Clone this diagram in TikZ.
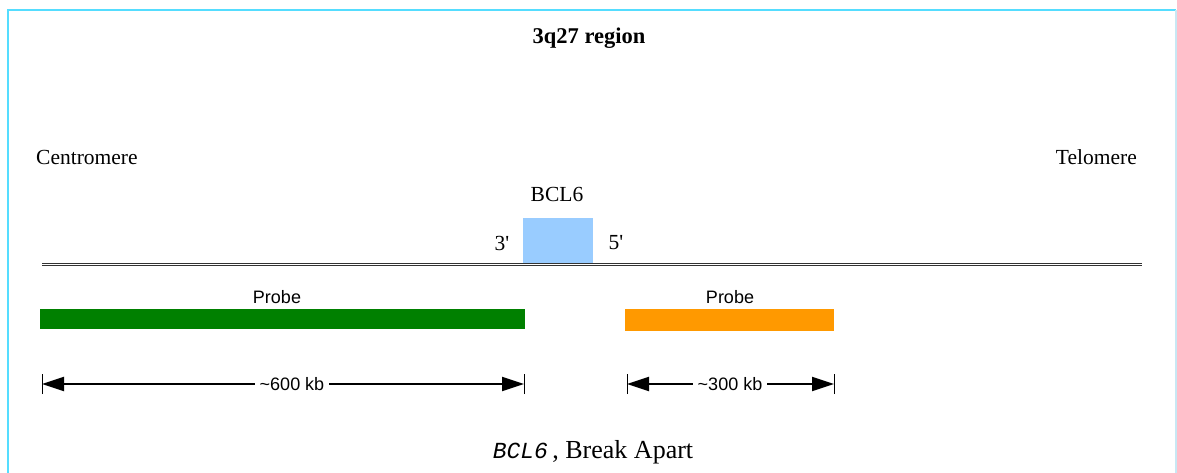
\documentclass[tikz,border=0pt]{standalone}
\usepackage{fontspec}
\setmainfont{Liberation Serif}
\setsansfont{Liberation Sans}
\newfontfamily\rawserif[Ligatures=TeXOff]{Liberation Serif}
\usetikzlibrary{arrows.meta}
\definecolor{framec}{HTML}{55DDFF}
\definecolor{framer}{HTML}{C8E8F4}
\definecolor{genec}{HTML}{99CCFF}
\definecolor{greenp}{HTML}{008000}
\definecolor{orangep}{HTML}{FF9900}
\definecolor{chrom}{HTML}{333333}
\tikzset{
  serif/.style={font=\fontsize{21.5}{23}\selectfont, inner sep=0pt},
  sans/.style={font=\sffamily\fontsize{18}{20}\selectfont, inner sep=0pt},
  probebar/.style={inner sep=0pt, minimum height=20pt, anchor=north west},
  tick/.style={line width=1pt},
  dim/.style={line width=2pt, -{Triangle[length=22pt,width=14pt]}},
}
\begin{document}
\begin{tikzpicture}[x=1pt,y=-1pt]
\useasboundingbox (0,0) rectangle (1177,472);
\draw[framec, line width=2pt] (8,480) -- (8,10) -- (1176,10);
\draw[framer, line width=1.5pt] (1176,10) -- (1176,480);
% title
\node[serif, font=\bfseries\fontsize{22.5}{24}\selectfont] (title) at (589,38) {3q27 region};
\node[serif, anchor=west] (cen) at (36,157) {Centromere};
\node[serif, anchor=east] (tel) at (1137,157) {Telomere};
% chromosome
\coordinate (chl) at (42,264.5);
\coordinate (chr) at (1142,264.5);
\draw[chrom, double=white, double distance=1.6pt, line width=1.1pt] (chl) -- (chr);
% gene
\node[fill=genec, inner sep=0pt, minimum width=70pt, minimum height=45pt, anchor=north west] (gene) at (523,218) {};
\node[serif] (genelbl) at (557,194) {BCL6};
\node[serif, font=\rawserif\fontsize{21.5}{23}\selectfont] (three) at (502,243) {3'};
\node[serif, font=\rawserif\fontsize{21.5}{23}\selectfont] (five) at (616,243) {5'};
% probes
\node[probebar, fill=greenp, minimum width=485pt] (gp) at (40,309) {};
\node[probebar, fill=orangep, minimum width=209pt, minimum height=22pt] (op) at (625,309) {};
\node[sans] (gpl) at (277,297) {Probe};
\node[sans] (opl) at (730,297) {Probe};
% dimensions
\coordinate (g1) at (42,384);
\coordinate (g2) at (524,384);
\coordinate (o1) at (627,384);
\coordinate (o2) at (834,384);
\foreach \c in {g1,g2,o1,o2} \draw[tick] ([yshift=-10pt]\c) -- ([yshift=10pt]\c);
\node[sans, fill=white, inner xsep=5pt] (g6) at (292,384) {{\char"7E}600 kb};
\node[sans, fill=white, inner xsep=5pt] (o3) at (730,384) {{\char"7E}300 kb};
\draw[dim] (g6.west) -- (g1);
\draw[dim] (g6.east) -- (g2);
\draw[dim] (o3.west) -- (o1);
\draw[dim] (o3.east) -- (o2);
% caption
\node[font=\fontsize{26}{28}\selectfont, inner sep=0pt] (cap) at (593,452) {{\fontspec{Liberation Mono}\itshape\fontsize{23}{25}\selectfont BCL6}\,, Break Apart};
\end{tikzpicture}
\end{document}
